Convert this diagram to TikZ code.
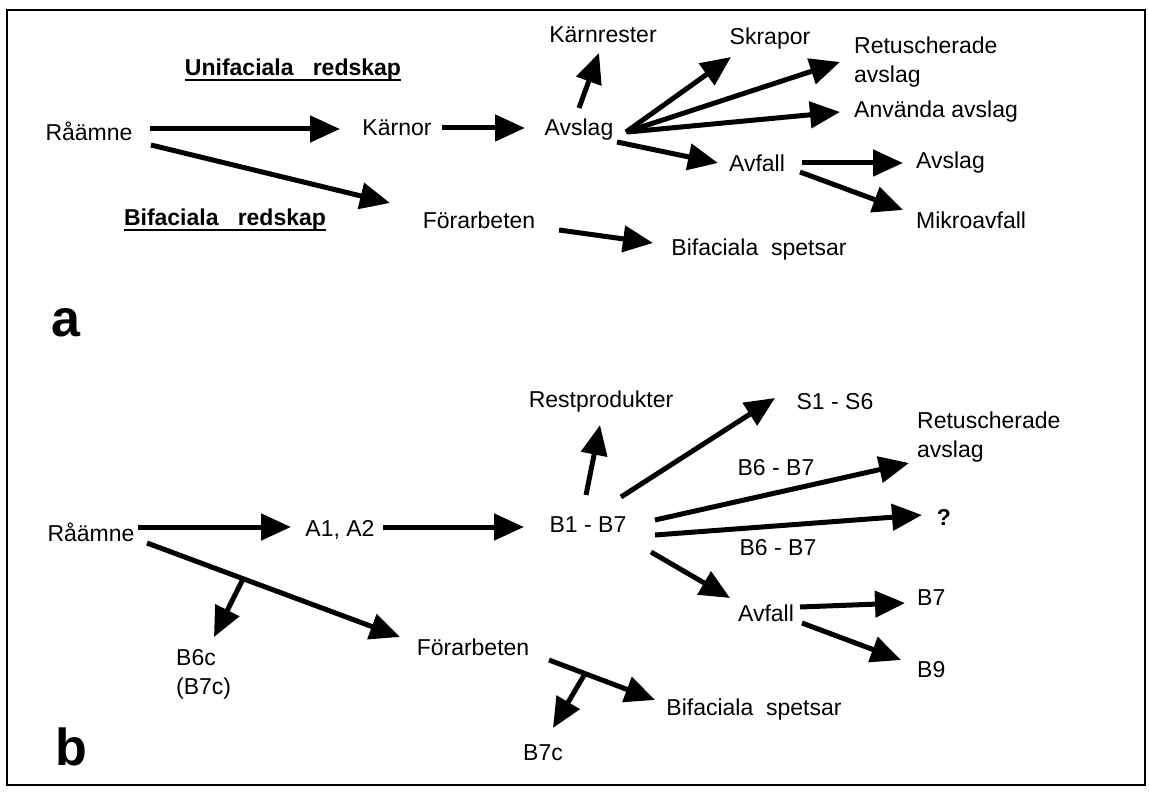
\documentclass[tikz,border=0pt]{standalone}
\usepackage{fontspec}
\setmainfont{Liberation Sans}
\usetikzlibrary{arrows.meta, calc}

\tikzset{
  lbl/.style={inner sep=0pt, font=\fontsize{23}{29}\selectfont, align=left},
  head/.style={lbl, font=\fontsize{23}{29}\selectfont\bfseries},
  panel/.style={inner sep=0pt, font=\fontsize{52}{56}\selectfont\bfseries},
  arr/.style={line width=5pt, -{Triangle[length=30pt,width=26pt]}},
}

\begin{document}
\begin{tikzpicture}[x=1pt, y=-1pt]
\useasboundingbox (0,0) rectangle (1149,794);
% Frame round both panels
\draw[line width=1.5pt] (7,10) rectangle (1145,785);

% Panel a
\node[lbl] (raamneA) at (89,131) {Råämne};
\node[lbl] (karnorA) at (397,128) {Kärnor};
\node[lbl] (avslagA) at (579,130) {Avslag};
\node[lbl] (karnrest) at (603,35) {Kärnrester};
\node[lbl] (skrapor) at (770,39) {Skrapor};
\node[lbl, anchor=west] (retuschA) at (854,62) {Retuscherade\\avslag};
\node[lbl, anchor=west] (anvanda) at (854,112) {Använda avslag};
\node[lbl] (avfallA) at (757,163) {Avfall};
\node[lbl, anchor=west] (avslagR) at (916,163) {Avslag};
\node[lbl, anchor=west] (mikro) at (916,220) {Mikroavfall};
\node[lbl] (forarbA) at (479,220) {Förarbeten};
\node[lbl] (bifspetsA) at (759,250) {Bifaciala\ \ spetsar};
\node[head] (unifac) at (293,70) {Unifaciala\ \ \ redskap};
\node[head] (bifac) at (225,220) {Bifaciala\ \ \ redskap};
\node[panel] (labelA) at (66,323) {a};

% Underlines of the two headings
\draw[line width=1.5pt] ($(unifac.base west)+(0,4)$) -- ($(unifac.base east)+(0,4)$);
\draw[line width=1.5pt] ($(bifac.base west)+(0,4)$) -- ($(bifac.base east)+(0,4)$);

\draw[arr] ($(raamneA)+(61,-2)$) -- ($(karnorA)+(-57,1)$);
\draw[arr] ($(karnorA)+(45,0)$) -- ($(avslagA)+(-54,-2)$);
\draw[arr] ($(avslagA)+(0,-22)$) -- ($(karnrest)+(-4,18)$);
\draw[arr] ($(avslagA)+(47,2)$) -- ($(skrapor)+(-39,18)$);
\draw[arr] ($(avslagA)+(47,2)$) -- ($(retuschA.west)+(-14,0)$);
\draw[arr] ($(avslagA)+(49,2)$) -- ($(anvanda.west)+(-14,0)$);
\draw[arr] ($(avslagA)+(38,12)$) -- ($(avfallA)+(-39,0)$);
\draw[arr] ($(avfallA)+(45,0)$) -- ($(avslagR.west)+(-13,0)$);
\draw[arr] ($(avfallA)+(43,9)$) -- ($(mikro.west)+(-13,-10)$);
\draw[arr] ($(raamneA)+(62,14)$) -- ($(forarbA)+(-89,-17)$);
\draw[arr] ($(forarbA)+(80,10)$) -- ($(bifspetsA)+(-106,-7)$);

% Panel b
\node[lbl] (raamneB) at (91,532) {Råämne};
\node[lbl] (a1a2) at (340,530) {A1, A2};
\node[lbl] (b1b7) at (588,525) {B1 - B7};
\node[lbl] (restprod) at (601,402) {Restprodukter};
\node[lbl] (s1s6) at (835,402) {S1 - S6};
\node[lbl, anchor=west] (retuschB) at (917,437) {Retuscherade\\avslag};
\node[lbl] (b6b7up) at (776,468) {B6 - B7};
\node[lbl] (qmark) at (944,517) {\bfseries ?};
\node[lbl] (b6b7lo) at (778,548) {B6 - B7};
\node[lbl] (avfallB) at (766,613) {Avfall};
\node[lbl, anchor=west] (b7) at (917,598) {B7};
\node[lbl, anchor=west] (b9) at (917,670) {B9};
\node[lbl] (forarbB) at (473,647) {Förarbeten};
\node[lbl] (bifspetsB) at (754,710) {Bifaciala\ \ spetsar};
\node[lbl, anchor=west] (b6c) at (176,674) {B6c\\(B7c)};
\node[lbl] (b7c) at (543,753) {B7c};
\node[panel] (labelB) at (71,747) {b};

\draw[arr] ($(raamneB)+(47,-5)$) -- ($(a1a2)+(-49,-3)$);
\draw[arr] ($(a1a2)+(43,-3)$) -- ($(b1b7)+(-64,2)$);
\draw[arr] ($(b1b7)+(-2,-30)$) -- ($(restprod)+(-1,23)$);
\draw[arr] ($(b1b7)+(33,-28)$) -- ($(s1s6)+(-60,-4)$);
\draw[arr] ($(b1b7)+(67,-5)$) -- ($(retuschB.west)+(-8,26)$);
\draw[arr] ($(b1b7)+(67,10)$) -- ($(qmark)+(-22,-2)$);
\draw[arr] ($(b1b7)+(63,27)$) -- ($(avfallB)+(-36,-15)$);
\draw[arr] ($(avfallB)+(34,-6)$) -- ($(b7.west)+(-12,5)$);
\draw[arr] ($(avfallB)+(36,10)$) -- ($(b9.west)+(-16,-10)$);
% Side branches off the two long arrows
\draw[arr] ($(raamneB)+(56,11)$) -- coordinate[pos=0.38] (forkB6) ($(forarbB)+(-73,-10)$);
\draw[arr] (forkB6) -- ($(b6c.west)+(38,-37)$);
\draw[arr] ($(forarbB)+(76,13)$) -- coordinate[pos=0.34] (forkB7) ($(bifspetsB)+(-99,-10)$);
\draw[arr] (forkB7) -- ($(b7c)+(10,-25)$);
\end{tikzpicture}
\end{document}
